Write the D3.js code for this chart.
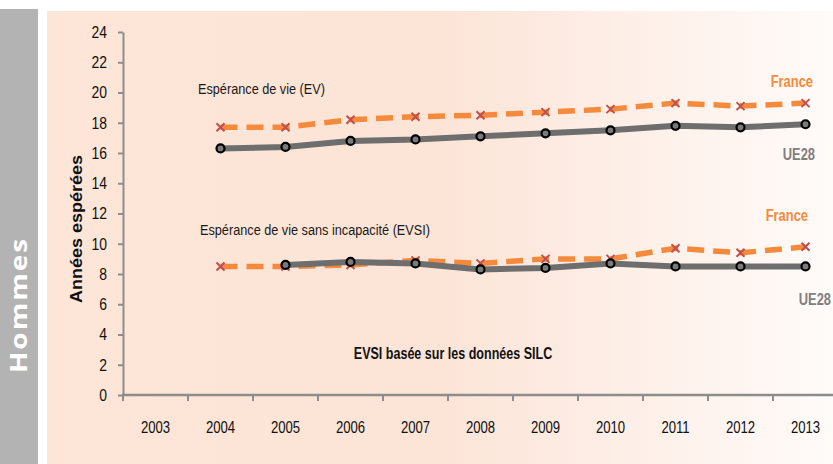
<!DOCTYPE html>
<html>
<head>
<meta charset="utf-8">
<script src="https://cdn.jsdelivr.net/npm/d3@7"></script>
<style>
    body { margin: 0; background: #ffffff; }
    svg { display: block; }
    text { font-family: "Liberation Sans", Arial, sans-serif; }
</style>
</head>
<body>
<div id="chart"></div>
<script>
var years = ["2003", "2004", "2005", "2006", "2007", "2008", "2009", "2010", "2011", "2012", "2013"];
var evFrance = [null, 17.7, 17.7, 18.2, 18.4, 18.5, 18.7, 18.9, 19.3, 19.1, 19.3];
var evUE28 = [null, 16.3, 16.4, 16.8, 16.9, 17.1, 17.3, 17.5, 17.8, 17.7, 17.9];
var evsiFrance = [null, 8.5, 8.5, 8.6, 8.9, 8.7, 9.0, 9.0, 9.7, 9.4, 9.8];
var evsiUE28 = [null, null, 8.6, 8.8, 8.7, 8.3, 8.4, 8.7, 8.5, 8.5, 8.5];
var yTicks = [0, 2, 4, 6, 8, 10, 12, 14, 16, 18, 20, 22, 24];

var width = 833, height = 464;
var orange = "#f58a3d", crossRed = "#c0504d", grey = "#6e6e6e", axisGrey = "#8d8d8d";
var squeeze = 0.82; // the source picture is squashed horizontally

var svg = d3.select("#chart").append("svg")
    .attr("width", width)
    .attr("height", height);

// background: grey side band and pink panel fading to white
var defs = svg.append("defs");
var bg = defs.append("linearGradient").attr("id", "bgGrad")
    .attr("gradientUnits", "userSpaceOnUse")
    .attr("x1", 47).attr("x2", width).attr("y1", 0).attr("y2", 0);
bg.append("stop").attr("offset", "0%").attr("stop-color", "#fde5d8");
bg.append("stop").attr("offset", "50%").attr("stop-color", "#fce4d7");
bg.append("stop").attr("offset", "100%").attr("stop-color", "#fffbf9");

svg.append("rect").attr("x", 0).attr("y", 9).attr("width", 38).attr("height", height - 9).attr("fill", "#b3b3b3");
svg.append("rect").attr("x", 47).attr("y", 11).attr("width", width - 47).attr("height", height - 11).attr("fill", "url(#bgGrad)");

svg.append("text")
    .attr("transform", "translate(27,305) rotate(-90) scale(1,0.84)")
    .attr("text-anchor", "middle")
    .style("font-family", "'Open Sans', 'DejaVu Sans', sans-serif")
    .attr("font-weight", 700)
    .attr("font-size", 28)
    .attr("letter-spacing", 2)
    .attr("fill", "#ffffff")
    .text("Hommes");

// scales
var x = d3.scaleBand().domain(years).range([123, 123 + 65 * years.length]);
var y = d3.scaleLinear().domain([0, 24]).range([395, 32]);
var cx = function (d) { return x(d) + x.bandwidth() / 2; };

// y axis
var yAxis = svg.append("g")
    .attr("transform", "translate(" + x.range()[0] + ",0)")
    .call(d3.axisLeft(y).tickValues(yTicks).tickSize(5).tickPadding(11).tickSizeOuter(0));
yAxis.select(".domain").attr("stroke", axisGrey).attr("stroke-width", 2);
yAxis.selectAll(".tick line").attr("stroke", axisGrey).attr("stroke-width", 2);
yAxis.selectAll(".tick text")
    .attr("x", -16 / squeeze)
    .attr("transform", "scale(" + squeeze + ",1)")
    .attr("font-size", 17)
    .attr("fill", "#111");

// x axis: labels centred in bands, ticks on band boundaries
var xAxis = svg.append("g")
    .attr("transform", "translate(0," + y(0) + ")")
    .call(d3.axisBottom(x).tickSize(0).tickPadding(27));
xAxis.select(".domain").remove();
xAxis.append("line")
    .attr("x1", x.range()[0] - 1).attr("x2", width)
    .attr("stroke", axisGrey).attr("stroke-width", 2.5);
xAxis.selectAll(".bound")
    .data(years)
    .enter().append("line")
    .attr("class", "bound")
    .attr("x1", function (d) { return x(d); })
    .attr("x2", function (d) { return x(d); })
    .attr("y1", 0).attr("y2", 6)
    .attr("stroke", axisGrey).attr("stroke-width", 2);
xAxis.selectAll(".tick text")
    .attr("transform", "scale(" + squeeze + ",1)")
    .attr("font-size", 16)
    .attr("fill", "#111");

// y title
svg.append("text")
    .attr("transform", "translate(81.5,229) rotate(-90) scale(1,0.88)")
    .attr("text-anchor", "middle")
    .attr("font-weight", 700)
    .attr("font-size", 18)
    .attr("fill", "#111")
    .text("Années espérées");

var line = d3.line()
    .defined(function (d) { return d.v != null; })
    .x(function (d) { return cx(d.year); })
    .y(function (d) { return y(d.v); });

var toPoints = function (vals) {
    return years.map(function (yr, i) { return { year: yr, v: vals[i] }; });
}

var drawPair = function (france, ue) {
    var fr = toPoints(france), eu = toPoints(ue);
    var g = svg.append("g");
    g.append("path")
        .attr("d", line(fr))
        .attr("fill", "none")
        .attr("stroke", orange)
        .attr("stroke-width", 5.5)
        .attr("stroke-dasharray", "17,9");
    var size = 4;
    g.selectAll(".cross")
        .data(fr.filter(function (d) { return d.v != null; }))
        .enter().append("path")
        .attr("class", "cross")
        .attr("d", function (d) {
            var px = cx(d.year), py = y(d.v);
            return "M" + (px - size) + "," + (py - size) + "L" + (px + size) + "," + (py + size) +
                "M" + (px - size) + "," + (py + size) + "L" + (px + size) + "," + (py - size);
        })
        .attr("stroke", crossRed)
        .attr("stroke-width", 2);
    g.append("path")
        .attr("d", line(eu))
        .attr("fill", "none")
        .attr("stroke", grey)
        .attr("stroke-width", 6);
    g.selectAll(".dot")
        .data(eu.filter(function (d) { return d.v != null; }))
        .enter().append("circle")
        .attr("class", "dot")
        .attr("cx", function (d) { return cx(d.year); })
        .attr("cy", function (d) { return y(d.v); })
        .attr("r", 4)
        .attr("fill", "#7a7a7a")
        .attr("stroke", "#000")
        .attr("stroke-width", 2.2);
}

drawPair(evFrance, evUE28);
drawPair(evsiFrance, evsiUE28);

// annotations
var note = function (tx, ty, txt, opts) {
    var sq = opts.bold ? 0.76 : squeeze;
    svg.append("text")
        .attr("transform", "translate(" + tx + "," + ty + ") scale(" + sq + ",1)")
        .attr("text-anchor", opts.anchor || "start")
        .attr("font-size", opts.size || 15.5)
        .attr("font-weight", opts.bold ? 700 : 400)
        .attr("fill", opts.color || "#1a1a1a")
        .text(txt);
}

note(198, 94, "Espérance de vie (EV)", {});
note(200, 235, "Espérance de vie sans incapacité (EVSI)", {});
note(813, 87, "France", { bold: true, color: orange, anchor: "end", size: 17 });
note(815, 160, "UE28", { bold: true, color: "#7f7f7f", anchor: "end", size: 17 });
note(808, 221, "France", { bold: true, color: orange, anchor: "end", size: 17 });
note(831, 305, "UE28", { bold: true, color: "#7f7f7f", anchor: "end", size: 17 });
note(453, 359, "EVSI basée sur les données SILC", { bold: true, color: "#111", anchor: "middle", size: 16.5 });
</script>
</body>
</html>
